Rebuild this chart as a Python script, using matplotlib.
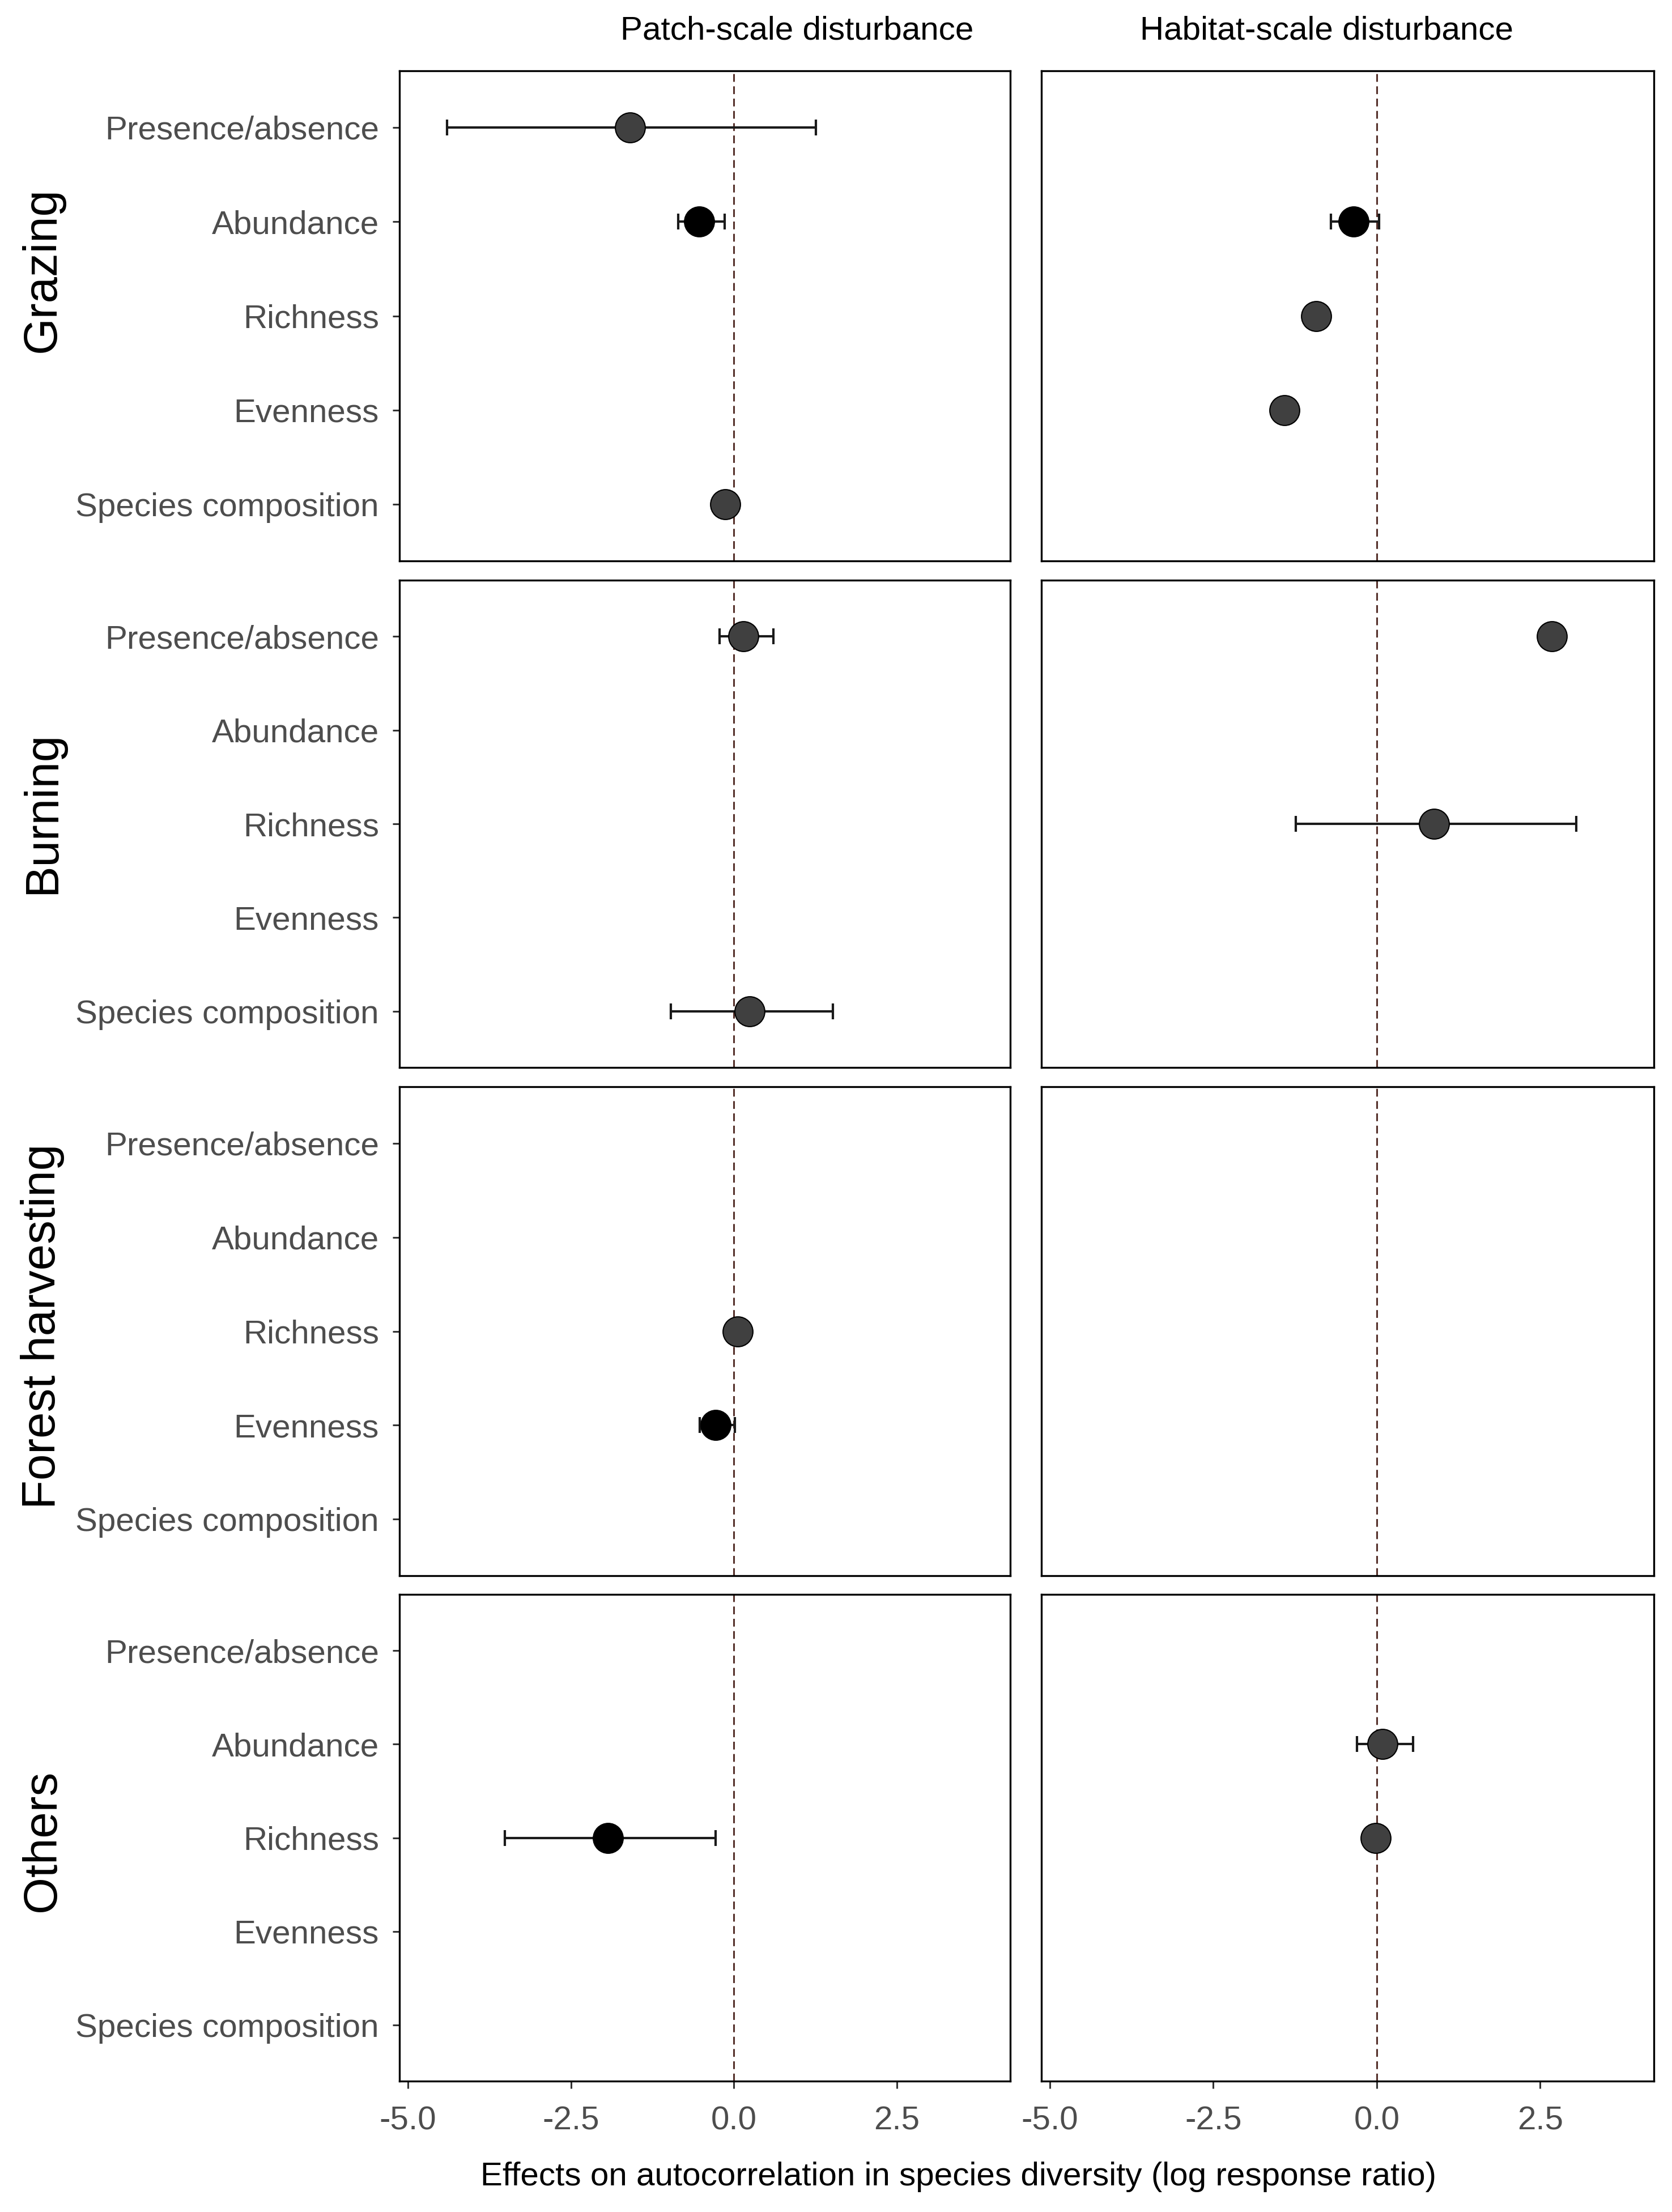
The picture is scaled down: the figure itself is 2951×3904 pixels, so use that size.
import numpy as np
import matplotlib
matplotlib.use("Agg")
import matplotlib.pyplot as plt

plt.rcParams['font.family'] = ['Liberation Sans', 'DejaVu Sans']

# ---------------- data ----------------
metrics = ["Presence/absence", "Abundance", "Richness", "Evenness", "Species composition"]
disturbances = ["Grazing", "Burning", "Forest harvesting", "Others"]
scales = ["Patch-scale disturbance", "Habitat-scale disturbance"]
xticks = [-5.0, -2.5, 0.0, 2.5]
xtick_labels = ["-5.0", "-2.5", "0.0", "2.5"]
x_title = "Effects on autocorrelation in species diversity (log response ratio)"

pt_disturbance = ["Grazing", "Grazing", "Grazing", "Grazing", "Grazing", "Grazing",
                  "Burning", "Burning", "Burning", "Burning",
                  "Forest harvesting", "Forest harvesting",
                  "Others", "Others", "Others"]
pt_scale = ["Patch-scale disturbance", "Patch-scale disturbance", "Patch-scale disturbance",
            "Habitat-scale disturbance", "Habitat-scale disturbance", "Habitat-scale disturbance",
            "Patch-scale disturbance", "Patch-scale disturbance",
            "Habitat-scale disturbance", "Habitat-scale disturbance",
            "Patch-scale disturbance", "Patch-scale disturbance",
            "Patch-scale disturbance", "Habitat-scale disturbance", "Habitat-scale disturbance"]
pt_metric = ["Presence/absence", "Abundance", "Species composition",
             "Abundance", "Richness", "Evenness",
             "Presence/absence", "Species composition",
             "Presence/absence", "Richness",
             "Richness", "Evenness",
             "Richness", "Abundance", "Richness"]
pt_estimate = [-1.59, -0.53, -0.13, -0.35, -0.93, -1.41,
               0.15, 0.24, 2.68, 0.88,
               0.06, -0.28,
               -1.93, 0.09, -0.02]
pt_lower = [-4.40, -0.85, np.nan, -0.70, np.nan, np.nan,
            -0.22, -0.97, np.nan, -1.24,
            np.nan, -0.52,
            -3.51, -0.30, np.nan]
pt_upper = [1.26, -0.14, np.nan, 0.04, np.nan, np.nan,
            0.61, 1.52, np.nan, 3.05,
            np.nan, 0.02,
            -0.28, 0.56, np.nan]
pt_significant = [False, True, False, True, False, False,
                  False, False, False, False,
                  False, True,
                  True, False, False]

# ---------------- layout ----------------
W, H = 2951, 3904
fig = plt.figure(figsize=(W / 100, H / 100), dpi=100)

col_x = [(705, 1783), (1838, 2919)]
row_y = [(125, 990), (1024, 1884), (1918, 2781), (2814, 3673)]
title_x = [1407, 2341]
row_label_y = [476, 1434, 2341, 3249]

FS = 42
tick_color = "#4d4d4d"

axes = {}
for r, dist in enumerate(disturbances):
    for c, sc in enumerate(scales):
        x0, x1 = col_x[c]
        y0, y1 = row_y[r]
        ax = fig.add_axes([x0 / W, 1 - y1 / H, (x1 - x0) / W, (y1 - y0) / H])
        axes[(dist, sc)] = ax
        ax.set_xlim(-5.13, 4.24)
        ax.set_ylim(len(metrics) - 1 + 0.6, -0.6)
        ax.axvline(0, color="#55302a", lw=2.2, linestyle=(0, (4.5, 2.6)), zorder=1)
        for s in ax.spines.values():
            s.set_linewidth(2.4)
            s.set_color("black")
        ax.set_xticks(xticks)
        ax.set_yticks(range(len(metrics)))
        ax.tick_params(axis="both", length=9, width=2.2, color="#333333",
                       labelsize=FS, labelcolor=tick_color)
        ax.tick_params(axis="y", pad=17)
        if c == 0:
            ax.set_yticklabels(metrics)
        else:
            ax.tick_params(axis="y", left=False, labelleft=False)
        if r == len(disturbances) - 1:
            ax.set_xticklabels(xtick_labels)
            ax.tick_params(axis="x", pad=22)
        else:
            ax.tick_params(axis="x", bottom=False, labelbottom=False)

for d, sc, m, est, lo, hi, sig in zip(pt_disturbance, pt_scale, pt_metric, pt_estimate,
                                      pt_lower, pt_upper, pt_significant):
    ax = axes[(d, sc)]
    y = metrics.index(m)
    if not np.isnan(lo):
        ax.errorbar([est], [y], xerr=[[est - lo], [hi - est]], fmt="none",
                    ecolor="#1a1a1a", elinewidth=3.0, capsize=10, capthick=3.0, zorder=2)
    ax.plot([est], [y], marker="o", markersize=38,
            markerfacecolor="black" if sig else "#404040",
            markeredgecolor="black", markeredgewidth=1.5, linestyle="none", zorder=3)

# column titles
for c, sc in enumerate(scales):
    fig.text(title_x[c] / W, 1 - 55 / H, sc, ha="center", va="center",
             fontsize=FS, color="black")

# row labels
for r, dist in enumerate(disturbances):
    fig.text(75 / W, 1 - row_label_y[r] / H, dist, ha="center", va="center",
             rotation=90, fontsize=60, color="black")

# x title
fig.text(1691 / W, 1 - 3842 / H, x_title,
         ha="center", va="center", fontsize=FS, color="black")

fig.savefig("out.png", dpi=100, facecolor="white")
